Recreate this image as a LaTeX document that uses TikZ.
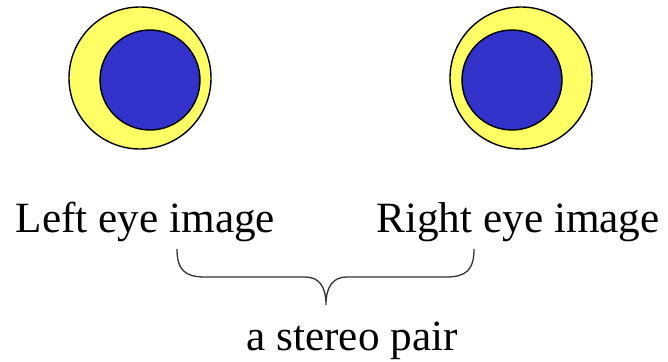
\documentclass[tikz,border=0pt]{standalone}
\usepackage{fontspec}
\setmainfont{Liberation Serif}
\definecolor{eyeyellow}{HTML}{FFFF66}
\definecolor{eyeblue}{HTML}{3333CC}
\tikzset{
  outereye/.style={circle, draw=black, line width=1.4pt, fill=eyeyellow, minimum size=142pt, inner sep=0pt},
  innereye/.style={circle, draw=black, line width=1.4pt, fill=eyeblue, minimum size=100pt, inner sep=0pt},
  label/.style={anchor=base, inner sep=0pt, font=\fontsize{43.2}{50}\selectfont},
  bracestyle/.style={draw=black!80, line width=1.3pt}
}
\begin{document}
\begin{tikzpicture}[x=1pt, y=-1pt]
  \useasboundingbox (0,0) rectangle (668,361);
  \node[outereye] (lout) at (140,78) {};
  \node[innereye] (lin) at (150,80) {};
  \node[outereye] (rout) at (521,78) {};
  \node[innereye] (rin) at (512,80) {};
  \node[label] (ltext) at (145.5,232) {Left eye image};
  \node[label] (rtext) at (518,232) {Right eye image};
  \node[label] (pair) at (352,350) {a stereo pair};
  \coordinate (bl) at (177,249);
  \coordinate (tip) at (326,305);
  \coordinate (br) at (474,249);
  \draw[bracestyle] (bl) .. controls (177,270) and (185,277) .. (205,277) -- (305,277)
     .. controls (318,277) and (326,285) .. (tip)
     .. controls (326,285) and (334,277) .. (347,277) -- (446,277)
     .. controls (466,277) and (474,270) .. (br);
\end{tikzpicture}
\end{document}
